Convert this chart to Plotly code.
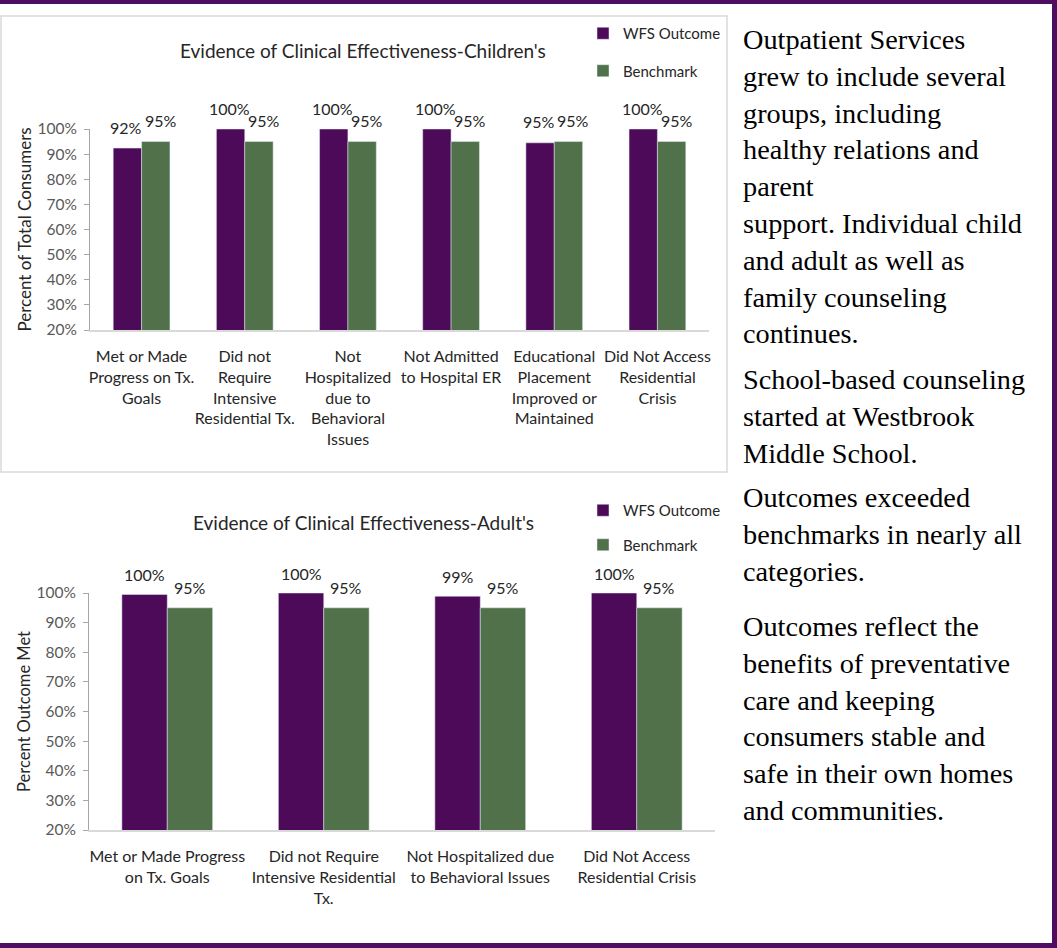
import plotly.graph_objects as go

W, H = 1057, 948

# ---------------- data ----------------
child_categories = [
    "Met or Made<br>Progress on Tx.<br>Goals",
    "Did not<br>Require<br>Intensive<br>Residential Tx.",
    "Not<br>Hospitalized<br>due to<br>Behavioral<br>Issues",
    "Not Admitted<br>to Hospital ER",
    "Educational<br>Placement<br>Improved or<br>Maintained",
    "Did Not Access<br>Residential<br>Crisis",
]
child_wfs = [0.924, 1.00, 1.00, 1.00, 0.945, 1.00]
child_wfs_labels = ["92%", "100%", "100%", "100%", "95%", "100%"]
child_bench = [0.95, 0.95, 0.95, 0.95, 0.95, 0.95]
child_bench_labels = ["95%", "95%", "95%", "95%", "95%", "95%"]

adult_categories = [
    "Met or Made Progress<br>on Tx. Goals",
    "Did not Require<br>Intensive Residential<br>Tx.",
    "Not Hospitalized due<br>to Behavioral Issues",
    "Did Not Access<br>Residential Crisis",
]
adult_wfs = [0.995, 1.00, 0.989, 1.00]
adult_wfs_labels = ["100%", "100%", "99%", "100%"]
adult_bench = [0.95, 0.95, 0.95, 0.95]
adult_bench_labels = ["95%", "95%", "95%", "95%"]

y_ticks = [0.2, 0.3, 0.4, 0.5, 0.6, 0.7, 0.8, 0.9, 1.0]

text_blocks = [
    "Outpatient Services<br>grew to include several<br>groups, including<br>healthy relations and<br>parent<br>support. Individual child<br>and adult as well as<br>family counseling<br>continues.",
    "School-based counseling<br>started at Westbrook<br>Middle School.",
    "Outcomes exceeded<br>benchmarks in nearly all<br>categories.",
    "Outcomes reflect the<br>benefits of preventative<br>care and keeping<br>consumers stable and<br>safe in their own homes<br>and communities.",
]

# ---------------- styles ----------------
PURPLE = "#4D0A59"
GREEN = "#50714A"
FRAME = "#4E0D60"
FONT = "Lato, 'Open Sans', sans-serif"
SERIF = "'Liberation Serif', 'Times New Roman', serif"


def px_x(p):
    return p / W


def px_y(p):
    return 1 - p / H


fig = go.Figure()

cw = 0.275  # bar width (category units), top chart
aw = 0.29   # bar width, bottom chart

fig.add_trace(go.Bar(x=child_categories, y=child_wfs, name="WFS Outcome",
                     marker_color=PURPLE, width=cw, offset=-cw,
                     xaxis="x", yaxis="y", legend="legend", legendgroup="a"))
fig.add_trace(go.Bar(x=child_categories, y=child_bench, name="Benchmark",
                     marker_color=GREEN, width=cw, offset=0,
                     xaxis="x", yaxis="y", legend="legend", legendgroup="b"))
fig.add_trace(go.Bar(x=adult_categories, y=adult_wfs, name="WFS Outcome",
                     marker_color=PURPLE, width=aw, offset=-aw,
                     xaxis="x2", yaxis="y2", legend="legend2", legendgroup="c"))
fig.add_trace(go.Bar(x=adult_categories, y=adult_bench, name="Benchmark",
                     marker_color=GREEN, width=aw, offset=0,
                     xaxis="x2", yaxis="y2", legend="legend2", legendgroup="d"))

annotations = []
# data labels
for vals, labels, sign, w, xr, yr, shift, dx in [
    (child_wfs, child_wfs_labels, -1, cw, "x", "y", 21, -1),
    (child_bench, child_bench_labels, 1, cw, "x", "y", 21, 5),
    (adult_wfs, adult_wfs_labels, -1, aw, "x2", "y2", 20, 0),
    (adult_bench, adult_bench_labels, 1, aw, "x2", "y2", 20, 0),
]:
    for i, (v, t) in enumerate(zip(vals, labels)):
        annotations.append(dict(
            x=i + sign * w / 2, y=v, xref=xr, yref=yr, text=t, showarrow=False,
            yshift=shift, xshift=dx, yanchor="middle", xanchor="center",
            font=dict(family=FONT, size=16, color="#262626")))

# chart titles
annotations.append(dict(x=px_x(363), y=px_y(50), xref="paper", yref="paper",
                        text="Evidence of Clinical Effectiveness-Children's",
                        showarrow=False, xanchor="center", yanchor="middle",
                        font=dict(family=FONT, size=19, color="#262626")))
annotations.append(dict(x=px_x(363), y=px_y(522), xref="paper", yref="paper",
                        text="Evidence of Clinical Effectiveness-Adult's",
                        showarrow=False, xanchor="center", yanchor="middle",
                        font=dict(family=FONT, size=19, color="#262626")))

# side text
for txt, top in zip(text_blocks, [22, 362, 480, 609]):
    annotations.append(dict(x=px_x(741), y=px_y(top), xref="paper", yref="paper",
                            text=txt, showarrow=False, xanchor="left", yanchor="top",
                            align="left",
                            font=dict(family=SERIF, size=28.3, color="#000000")))

shapes = [
    # chart box around children's chart
    dict(type="rect", xref="paper", yref="paper", x0=px_x(1), x1=px_x(727),
         y0=px_y(472), y1=px_y(16), line=dict(color="#D9D9D9", width=1.5)),
    # purple frame: top, bottom, right
    dict(type="rect", xref="paper", yref="paper", x0=0, x1=1, y0=px_y(4), y1=1,
         fillcolor=FRAME, line_width=0),
    dict(type="rect", xref="paper", yref="paper", x0=0, x1=1, y0=0, y1=px_y(943),
         fillcolor=FRAME, line_width=0),
    dict(type="rect", xref="paper", yref="paper", x0=px_x(1052), x1=1, y0=0, y1=1,
         fillcolor=FRAME, line_width=0),
]

yaxis_common = dict(range=[0.2, 1.0], tickvals=y_ticks, tickformat=".0%",
                    showgrid=False, zeroline=False, showline=True,
                    linecolor="#A6A6A6", linewidth=1, ticks="outside", ticklen=5,
                    tickcolor="#A6A6A6", automargin=False, ticklabelstandoff=4,
                    tickfont=dict(family=FONT, size=15.5, color="#595959"))
xaxis_common = dict(showgrid=False, zeroline=False, showline=True,
                    linecolor="#D9D9D9", linewidth=1.5, ticks="",
                    tickangle=0, ticklabelstandoff=11, automargin=False,
                    tickfont=dict(family=FONT, size=16, color="#262626"))

fig.update_layout(
    width=W, height=H,
    margin=dict(l=0, r=0, t=0, b=0, pad=0, autoexpand=False),
    paper_bgcolor="white", plot_bgcolor="white",
    barmode="group",
    xaxis=dict(domain=[px_x(90), px_x(709)], anchor="y", **xaxis_common),
    yaxis=dict(domain=[px_y(330), px_y(129)], anchor="x",
               title=dict(text="Percent of Total Consumers", standoff=1,
                          font=dict(family=FONT, size=17, color="#262626")),
               **yaxis_common),
    xaxis2=dict(domain=[px_x(89), px_x(715)], anchor="y2", **xaxis_common),
    yaxis2=dict(domain=[px_y(830), px_y(593)], anchor="x2",
                title=dict(text="Percent Outcome Met", standoff=1,
                           font=dict(family=FONT, size=16.5, color="#262626")),
                **yaxis_common),
    legend=dict(x=px_x(583), y=px_y(17), xanchor="left", yanchor="top",
                tracegroupgap=15, bgcolor="rgba(0,0,0,0)",
                font=dict(family=FONT, size=15, color="#262626")),
    legend2=dict(x=px_x(583), y=px_y(494), xanchor="left", yanchor="top",
                 tracegroupgap=12, bgcolor="rgba(0,0,0,0)",
                 font=dict(family=FONT, size=15, color="#262626")),
    annotations=annotations,
    shapes=shapes,
)

post = (
    "document.documentElement.style.margin='0';"
    "document.body.style.margin='0';"
    "document.body.style.overflow='hidden';"
    "var gd=document.getElementById('{plot_id}');"
    "gd.style.position='fixed';gd.style.top='0px';gd.style.left='0px';"
)
fig.write_html("out.html", config={"displayModeBar": False}, post_script=post)
